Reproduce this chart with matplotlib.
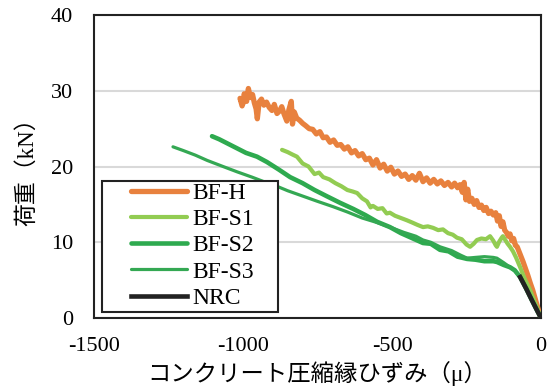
import matplotlib
matplotlib.use("Agg")
import matplotlib.pyplot as plt
from matplotlib.patches import Rectangle

plt.rcParams["axes.unicode_minus"] = False

# Load vs. concrete compressive-edge strain
bfh_strain = [-1003, -1010, -1000, -996, -988, -982, -975, -968, -962, -956, -952, -946,
              -938, -930, -921, -912, -903, -895, -886, -878, -870, -862, -853, -846,
              -838, -834, -828, -820, -810, -800, -790, -778, -766, -754, -742, -731,
              -720, -708, -696, -684, -672, -660, -648, -636, -624, -612, -600, -588,
              -576, -564, -552, -540, -528, -516, -504, -492, -480, -468, -456, -444,
              -432, -420, -408, -396, -384, -372, -360, -348, -336, -324, -312, -300,
              -290, -280, -272, -264, -258, -252, -246, -240, -232, -224, -216, -208,
              -200, -192, -184, -176, -168, -160, -152, -146, -140, -134, -128, -122,
              -116, -110, -104, -98, -92, -86, -80, -74, -68, -60, -52, -44, -36, -28,
              -20, -12, -6, 0]
bfh_load = [28.0, 29.0, 28.3, 29.6, 28.6, 30.3, 29.1, 29.5, 28.4, 27.6, 26.3, 28.5,
            28.9, 28.1, 28.5, 27.8, 27.4, 28.2, 27.0, 27.3, 27.9, 26.9, 26.0, 27.5,
            28.6, 25.6, 27.2, 26.4, 26.1, 25.7, 25.4, 25.0, 24.9, 24.3, 24.6, 23.8,
            23.9, 23.2, 23.5, 22.8, 22.9, 22.3, 22.6, 21.8, 22.1, 21.4, 21.7, 20.9,
            21.1, 20.2, 20.9, 19.8, 20.3, 19.4, 19.9, 19.0, 19.4, 18.7, 19.0, 18.3,
            18.8, 18.2, 19.1, 18.0, 18.5, 17.8, 18.3, 17.7, 18.1, 17.5, 17.9, 17.3,
            17.8, 17.2, 17.6, 16.6, 17.9, 15.6, 17.0, 15.4, 15.8, 15.0, 15.5, 14.6,
            14.9, 14.2, 14.6, 13.8, 14.1, 13.6, 13.9, 12.8, 13.5, 12.1, 12.7, 11.6,
            11.3, 10.8, 11.1, 10.2, 10.5, 9.6, 9.4, 8.8, 8.2, 7.4, 6.5, 5.6, 4.6, 3.7,
            2.6, 1.5, 0.7, 0.0]

bfs1_strain = [-869, -850, -835, -819, -800, -780, -760, -745, -731, -710, -690, -670,
               -650, -632, -617, -600, -584, -572, -564, -548, -532, -518, -507, -490,
               -470, -450, -432, -415, -396, -380, -362, -345, -329, -312, -296, -282,
               -266, -250, -238, -226, -215, -200, -185, -171, -160, -152, -148, -140,
               -132, -128, -120, -112, -104, -94, -84, -70, -55, -37, -20, 0]
bfs1_load = [22.2, 21.9, 21.6, 21.3, 20.4, 20.0, 19.0, 19.2, 18.6, 18.3, 17.8, 17.4,
             16.9, 16.7, 16.5, 15.8, 15.4, 14.6, 14.8, 14.4, 14.5, 13.8, 13.9, 13.5,
             13.2, 12.9, 12.6, 12.3, 12.0, 12.1, 11.9, 11.6, 11.7, 11.2, 11.0, 10.6,
             10.4, 9.7, 9.4, 9.8, 10.3, 10.5, 10.4, 10.8, 10.2, 9.6, 9.4, 10.1,
             10.6, 10.8, 10.3, 9.8, 9.4, 8.8, 8.0, 6.7, 5.2, 3.7, 2.0, 0.0]

bfs2_strain = [-1104, -1080, -1050, -1020, -990, -953, -920, -880, -842, -800, -760,
               -720, -674, -630, -590, -550, -507, -470, -430, -396, -370, -339, -310,
               -280, -248, -220, -190, -160, -148, -125, -104, -88, -70, -50, -30, -12, 0]
bfs2_load = [24.0, 23.6, 23.0, 22.4, 21.8, 21.3, 20.6, 19.6, 18.6, 17.8, 16.9,
             16.1, 15.2, 14.4, 13.6, 12.7, 12.0, 11.2, 10.5, 9.9, 9.8, 9.0, 8.8,
             8.1, 7.8, 7.7, 7.5, 7.5, 7.4, 7.0, 6.7, 6.3, 5.4, 3.9, 2.3, 0.9, 0.0]

bfs3_strain = [-1235, -1200, -1160, -1120, -1067, -1020, -970, -930, -899, -850, -800,
               -750, -698, -650, -600, -550, -507, -460, -420, -396, -370, -339, -300,
               -270, -248, -220, -190, -160, -148, -125, -104, -88, -70, -50, -30, -12, 0]
bfs3_load = [22.6, 22.1, 21.5, 20.8, 20.0, 19.3, 18.6, 18.0, 17.6, 16.8, 16.1,
             15.4, 14.7, 14.0, 13.2, 12.6, 12.0, 11.3, 10.8, 10.3, 10.0, 9.4, 8.9,
             8.3, 7.9, 8.0, 8.1, 8.0, 7.9, 7.3, 6.7, 6.2, 5.4, 3.9, 2.3, 0.9, 0.0]

nrc_strain = [-70, -50, -30, -12, 0]
nrc_load = [5.4, 3.9, 2.3, 0.9, 0.0]

x_ticks = [-1500, -1000, -500, 0]
y_ticks = [0, 10, 20, 30, 40]

serif_cjk = ["Liberation Serif", "Noto Sans CJK JP"]

fig = plt.figure(figsize=(5.55, 3.89), dpi=100)
ax = fig.add_axes([0.1694, 0.1825, 0.8054, 0.7789])

ax.plot(bfh_strain, bfh_load, color="#E8813E", lw=3.8, label="BF-H", zorder=3,
        solid_joinstyle="round", solid_capstyle="round")
ax.plot(bfs1_strain, bfs1_load, color="#92CC52", lw=3.0, label="BF-S1", zorder=4,
        solid_capstyle="round")
ax.plot(bfs2_strain, bfs2_load, color="#2EAA4F", lw=3.3, label="BF-S2", zorder=5,
        solid_capstyle="round")
ax.plot(bfs3_strain, bfs3_load, color="#34A853", lw=2.3, label="BF-S3", zorder=5,
        solid_capstyle="round")
ax.plot(nrc_strain, nrc_load, color="#222222", lw=3.3, label="NRC", zorder=6)

ax.set_xlim(-1500, 0)
ax.set_ylim(0, 40)
ax.set_xticks(x_ticks)
ax.set_yticks(y_ticks)
ax.tick_params(length=0, labelsize=16)
ax.tick_params(axis="x", pad=14)
ax.tick_params(axis="y", pad=15)
for lab in ax.get_xticklabels() + ax.get_yticklabels():
    lab.set_family("Liberation Serif")
ax.yaxis.grid(True, color="#D9D9D9", lw=1.5)
ax.set_axisbelow(True)
for sp in ax.spines.values():
    sp.set_color("#222222")
    sp.set_linewidth(1.5)

ax.set_xlabel("コンクリート圧縮縁ひずみ（μ）", family=serif_cjk, fontsize=16.8, labelpad=3)
ax.set_ylabel("荷重（kN）", family=serif_cjk, fontsize=16.5, labelpad=9)

# legend box with wide side margins
ax.add_patch(Rectangle((0.018, 0.02), 0.394, 0.432, transform=ax.transAxes,
                       facecolor="white", edgecolor="#222222", lw=1.5, zorder=7))
leg = ax.legend(loc="lower left", bbox_to_anchor=(0.082, 0.03), frameon=False,
                prop={"family": "Liberation Serif", "size": 17},
                handlelength=2.4, labelspacing=0.2, borderpad=0, handletextpad=0.2,
                borderaxespad=0)
leg.set_zorder(8)

fig.savefig("out.png", dpi=100)
